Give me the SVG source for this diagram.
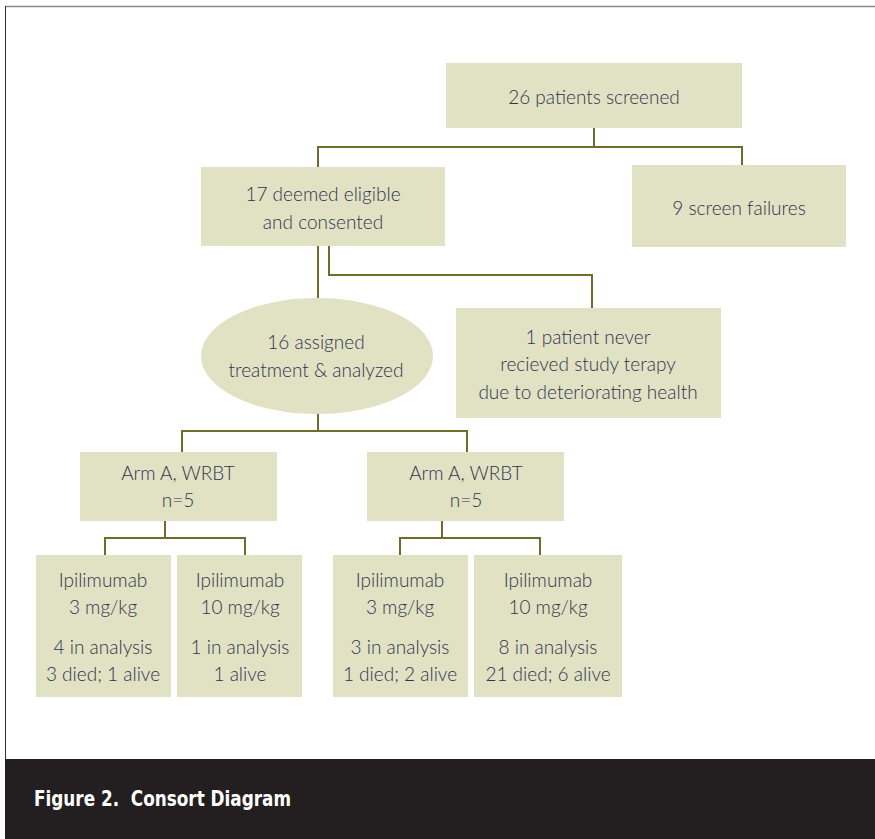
<svg xmlns="http://www.w3.org/2000/svg" width="875" height="839" viewBox="0 0 875 839">
<style>
.box{fill:#e1e2c3;}
.t{font-family:Lato,"Open Sans","Liberation Sans",sans-serif;font-weight:300;font-size:19px;fill:#2f3450;text-anchor:middle;}
.c{fill:none;stroke:#6e6d2c;stroke-width:2;}
</style>
<rect x="0" y="0" width="875" height="839" fill="#ffffff"/>
<line x1="5" y1="6.5" x2="875" y2="6.5" stroke="#8a8a8a" stroke-width="1.5"/>
<line x1="5.5" y1="6" x2="5.5" y2="760" stroke="#333" stroke-width="1"/>
<g id="connectors">
<path class="c" d="M594 128V147M318 167V147H742V165"/>
<path class="c" d="M318 246V298M329 246V275H592V308"/>
<path class="c" d="M318 412V431H182V452M318 431H467V452"/>
<path class="c" d="M165 521V538H105V555M165 538H245V555"/>
<path class="c" d="M442 521V538H400V555M442 538H540V555"/>
</g>
<g id="screened"><rect class="box" x="446" y="63" width="296" height="65"/><text class="t" x="594" y="104">26 patients screened</text></g>
<g id="eligible"><rect class="box" x="201" y="167" width="244" height="79"/><text class="t" x="323" y="201">17 deemed eligible</text><text class="t" x="323" y="229">and consented</text></g>
<g id="failures"><rect class="box" x="632" y="165" width="214" height="82"/><text class="t" x="739" y="215">9 screen failures</text></g>
<g id="assigned"><ellipse class="box" cx="317" cy="356" rx="116" ry="58"/><text class="t" x="316" y="349">16 assigned</text><text class="t" x="316" y="377">treatment &amp; analyzed</text></g>
<g id="never"><rect class="box" x="456" y="308" width="265" height="110"/><text class="t" x="588" y="344">1 patient never</text><text class="t" x="588" y="371">recieved study terapy</text><text class="t" x="588" y="399">due to deteriorating health</text></g>
<g id="armA1"><rect class="box" x="80" y="452" width="197" height="69"/><text class="t" x="178" y="480">Arm A, WRBT</text><text class="t" x="178" y="507">n=5</text></g>
<g id="armA2"><rect class="box" x="367" y="452" width="197" height="69"/><text class="t" x="466" y="480">Arm A, WRBT</text><text class="t" x="466" y="507">n=5</text></g>
<g id="b1"><rect class="box" x="36" y="555" width="135" height="142"/><text class="t" x="103" y="587">Ipilimumab</text><text class="t" x="103" y="614">3 mg/kg</text><text class="t" x="103" y="654">4 in analysis</text><text class="t" x="103" y="681">3 died; 1 alive</text></g>
<g id="b2"><rect class="box" x="177" y="555" width="125" height="142"/><text class="t" x="240" y="587">Ipilimumab</text><text class="t" x="240" y="614">10 mg/kg</text><text class="t" x="240" y="654">1 in analysis</text><text class="t" x="240" y="681">1 alive</text></g>
<g id="b3"><rect class="box" x="333" y="555" width="135" height="142"/><text class="t" x="400" y="587">Ipilimumab</text><text class="t" x="400" y="614">3 mg/kg</text><text class="t" x="400" y="654">3 in analysis</text><text class="t" x="400" y="681">1 died; 2 alive</text></g>
<g id="b4"><rect class="box" x="474" y="555" width="148" height="142"/><text class="t" x="548" y="587">Ipilimumab</text><text class="t" x="548" y="614">10 mg/kg</text><text class="t" x="548" y="654">8 in analysis</text><text class="t" x="548" y="681">21 died; 6 alive</text></g>
<rect x="5" y="759" width="870" height="80" fill="#231f20"/>
<text x="34" y="806" xml:space="preserve" style="white-space:pre" font-family="'DejaVu Sans Condensed','Liberation Sans',sans-serif" font-weight="bold" font-size="21" fill="#ffffff" textLength="257" lengthAdjust="spacingAndGlyphs">Figure 2.  Consort Diagram</text>
</svg>
